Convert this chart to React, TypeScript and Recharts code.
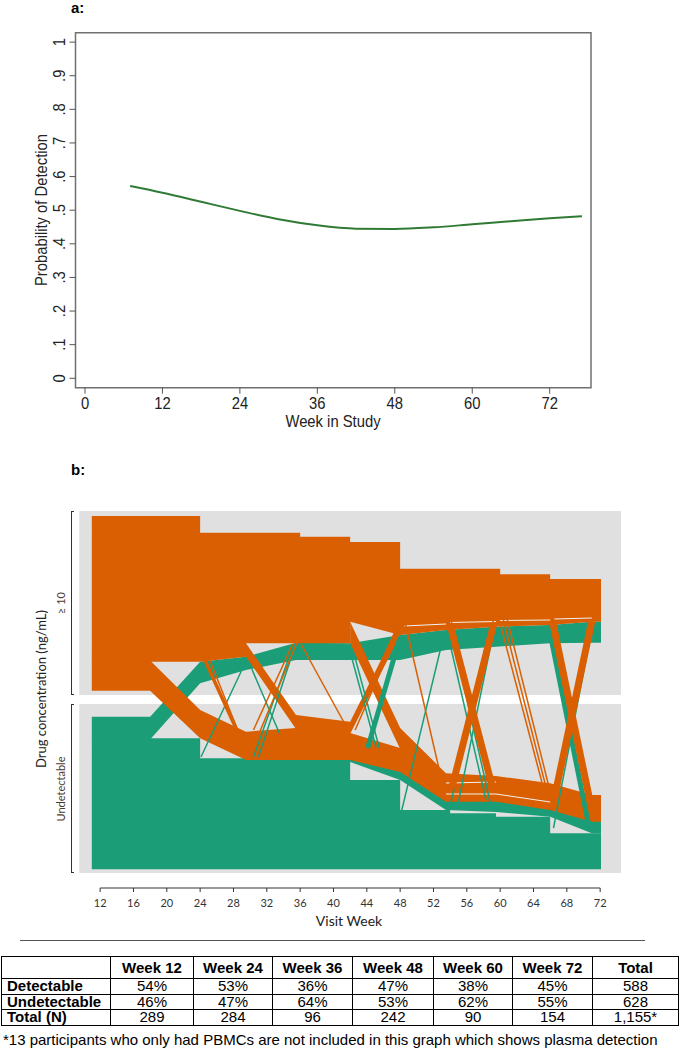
import React from 'react';
import {
  LineChart,
  Line,
  ComposedChart,
  Area,
  XAxis,
  YAxis,
  ReferenceArea,
  ReferenceLine,
} from 'recharts';

// ---- panel a: fitted probability of detection ----
const fitWeeks = [7, 12, 18, 24, 30, 36, 42, 48, 54, 60, 66, 72, 77];
const fitProb = [0.572, 0.552, 0.525, 0.498, 0.473, 0.455, 0.445, 0.444, 0.449, 0.458, 0.467, 0.476, 0.482];
const probTicks = [0, 0.1, 0.2, 0.3, 0.4, 0.5, 0.6, 0.7, 0.8, 0.9, 1];
const probLabels = ['0', '.1', '.2', '.3', '.4', '.5', '.6', '.7', '.8', '.9', '1'];
const studyWeekTicks = [0, 12, 24, 36, 48, 60, 72];

// ---- panel b: alluvial of drug concentration by visit ----
const visitTicks = [12, 16, 20, 24, 28, 32, 36, 40, 44, 48, 52, 56, 60, 64, 68, 72];
type Band = [number, number, number][]; // [week, low, high] in stacked participant units
type Path = [number, number][]; // [week, level]

const greenBase: Band = [
  [11, 18.7, 149.7], [24, 18.7, 149.7], [24, 18.7, 129.7], [42, 18.7, 129.7], [42, 18.7, 108],
  [48, 18.7, 108], [48, 18.7, 78], [54, 18.7, 78], [54, 18.7, 74.7], [59.5, 18.7, 74.7],
  [59.5, 18.7, 71.3], [66, 18.7, 71.3], [66, 18.7, 54.7], [72.1, 18.7, 54.7],
];
const greenSub: Band = [
  [29.5, 122, 130], [35.5, 122, 130], [42, 126, 130], [48, 108, 118], [53.5, 78, 88],
  [59.5, 76, 88], [66, 71.3, 80], [71, 54.7, 68], [72.1, 54.7, 68],
];
const greenUp: Band = [
  [11, 148.5, 171.3], [18, 148.5, 171.3], [24, 204.7, 226.3], [29.5, 218, 231.3], [35.5, 228, 245.3],
  [42, 228, 244.7], [48, 228, 253], [53.5, 238, 258], [59.5, 241.3, 261.3], [66, 244.7, 263],
  [71, 245.3, 266.3], [72.1, 245.3, 266.3],
];

const orangeTop: Band = [
  [11, 226.3, 372], [24, 226.3, 372], [24, 226.3, 355.3], [29.5, 231.3, 355.3], [29.5, 244.7, 355.3],
  [36, 244.7, 355.3], [36, 244.7, 351.3], [42, 244.7, 351.3], [42, 266.3, 346], [48, 253, 346],
  [48, 253, 319.3], [53.5, 258, 319.3], [59.5, 261.3, 319.3], [60, 261.5, 319.3], [60, 261.5, 313.7],
  [66, 263, 313.7], [66, 263, 309], [71, 266.3, 309], [72.1, 266.3, 309],
];
const orangeLow: Band = [
  [11, 197.3, 227.5], [18, 197.3, 227.5], [24, 149.7, 178], [29.5, 128, 156.3], [35.5, 128, 160],
  [42, 128, 155], [48, 116, 140], [53.5, 86.3, 100], [59.5, 86.3, 100], [66, 78, 92],
  [71, 66.3, 82], [72.1, 66.3, 82],
];
const orangeDown2: Band = [[29.5, 231.3, 244.7], [35.5, 159, 173], [42, 154, 166.3], [48, 253, 266.3]];
const orangeDown3: Band = [
  [42, 244.7, 266.3], [48, 139, 160], [53.5, 99, 114.7], [59.5, 99, 112], [66, 91, 104.7],
  [71, 81, 93], [72.1, 81, 93],
];

// crossing flows between strata, drawn as strokes
const greenThin: Path[] = [
  [[24.1, 131], [29, 218]],
  [[30.2, 219], [33.5, 155]],
  [[30.4, 131], [35.1, 241]],
  [[31, 131], [35.3, 240]],
  [[42.2, 230], [45.1, 141]],
  [[42.6, 230], [45.5, 140]],
  [[48.2, 78], [52.9, 241]],
  [[54.1, 240], [58.3, 88]],
  [[54.6, 240], [58.8, 86]],
  [[54.1, 86], [58.6, 256]],
  [[55, 86], [59.2, 256]],
  [[66.4, 60], [70.8, 250]],
];
const greenThick: Path[] = [
  [[44.1, 140], [48, 251]],
  [[66.2, 246], [70.6, 64]],
];
const orangeThin: Path[] = [
  [[25, 231], [28.8, 152]],
  [[30.4, 158], [35.1, 244]],
  [[31.2, 157], [35.6, 245]],
  [[36.1, 244], [41.3, 165]],
  [[42.2, 161], [48, 268]],
  [[42.6, 158], [48.2, 265]],
  [[48.6, 265], [52.7, 118]],
  [[59.8, 271], [65, 106]],
  [[60.3, 271], [65.4, 104]],
  [[60.8, 270], [65.8, 103]],
  [[54.1, 268], [58.9, 105]],
  [[54.5, 106], [59.2, 268]],
  [[66.6, 268], [70.4, 90]],
  [[66.8, 92], [71, 266]],
];
const orangeMid: Path[] = [[[24.4, 231], [28.5, 156]]];
const orangeThick: Path[] = [
  [[54, 263], [59, 103]],
  [[54.2, 100], [59.2, 263]],
  [[66.3, 266], [70.8, 86]],
  [[66.5, 90], [71, 267]],
];
const whiteSeams: Path[] = [
  [[53.5, 94], [59.5, 94]],
  [[59.5, 94], [66, 86]],
  [[53.5, 105], [59.5, 106]],
  [[48.5, 262], [53.5, 264]],
  [[54, 265.5], [59.5, 266.5]],
  [[60, 267.5], [66, 268]],
  [[66.5, 269], [71, 270]],
];

// ---- table ----
const tableWeeks = ['Week 12', 'Week 24', 'Week 36', 'Week 48', 'Week 60', 'Week 72'];
const detectablePct = ['54%', '53%', '36%', '47%', '38%', '45%'];
const undetectablePct = ['46%', '47%', '64%', '53%', '62%', '55%'];
const totalN = ['289', '284', '96', '242', '90', '154'];
const rowTotals = ['588', '628', '1,155*'];

const ORANGE = '#D95F02';
const GREEN = '#1B9E77';
const ARIAL = "'Liberation Sans', Arial, sans-serif";
const CAL = "Lato, 'Open Sans', sans-serif";
const SQUEEZE = 0.87;

const rows = (b: Band) => b.map(([w, lo, hi]) => ({ w, r: [lo, hi] }));
const pts = (p: Path) => p.map(([w, v]) => ({ w, v }));

const StudyTick = (props: any) => {
  const { x, y, payload } = props;
  return (
    <g transform={`translate(${x} ${y + 13}) scale(${SQUEEZE} 1)`}>
      <text x={0} y={0} textAnchor='middle' fontSize={17} fontFamily={ARIAL} fill='#222'>
        {payload.value}
      </text>
    </g>
  );
};

const ProbTick = (props: any) => {
  const { x, y, index } = props;
  return (
    <g transform={`translate(${x - 3} ${y}) rotate(-90) scale(${SQUEEZE} 1)`}>
      <text x={0} y={0} textAnchor='middle' fontSize={17} fontFamily={ARIAL} fill='#222'>
        {probLabels[index]}
      </text>
    </g>
  );
};

const VisitTick = (props: any) => {
  const { x, y, payload } = props;
  return (
    <text x={x} y={y + 12.5} textAnchor='middle' fontSize={11} fontFamily={CAL} fill='#333'>
      {payload.value}
    </text>
  );
};

const Label = ({ x, y, rotate, size, font, children, weight, color, squeeze }: any) => (
  <div
    style={{
      position: 'absolute',
      left: x,
      top: y,
      transform: `translate(-50%, -50%)${rotate ? ' rotate(-90deg)' : ''}${squeeze ? ` scaleX(${squeeze})` : ''}`,
      whiteSpace: 'nowrap',
      fontSize: size,
      fontFamily: font,
      fontWeight: weight || 'normal',
      color: color || '#222',
      lineHeight: 1,
    }}
  >
    {children}
  </div>
);

const Bracket = ({ top, height }: { top: number; height: number }) => (
  <div
    style={{
      position: 'absolute',
      left: 71,
      top,
      width: 3,
      height,
      borderLeft: '1.5px solid #333',
      borderTop: '1.5px solid #333',
      borderBottom: '1.5px solid #333',
      boxSizing: 'border-box',
    }}
  />
);

const bandArea = (b: Band, color: string, key: string) => (
  <Area
    key={key}
    data={rows(b)}
    dataKey='r'
    type='linear'
    fill={color}
    fillOpacity={1}
    stroke='none'
    dot={false}
    activeDot={false}
    isAnimationActive={false}
  />
);

const pathLine = (p: Path, color: string, width: number, key: string) => (
  <Line
    key={key}
    data={pts(p)}
    dataKey='v'
    type='linear'
    stroke={color}
    strokeWidth={width}
    dot={false}
    activeDot={false}
    isAnimationActive={false}
  />
);

const cell: React.CSSProperties = {
  border: '1px solid #000',
  padding: 0,
  textAlign: 'center',
  fontSize: 15,
  lineHeight: '14px',
  height: 14.5,
};

export default function App() {
  const fitData = fitWeeks.map((w, i) => ({ w, p: fitProb[i] }));

  return (
    <div
      style={{
        position: 'absolute',
        left: 0,
        top: 0,
        width: 679,
        height: 1050,
        overflow: 'hidden',
        background: '#fff',
        fontFamily: ARIAL,
      }}
    >
      <div style={{ position: 'absolute', left: 71, top: 0, fontSize: 15, fontWeight: 'bold', lineHeight: '15px' }}>a:</div>

      <div style={{ position: 'absolute', left: 0, top: 0 }}>
        <LineChart width={679} height={440} data={fitData} margin={{ top: 32.7, right: 88, bottom: 0, left: 0 }}>
          <XAxis
            dataKey='w'
            type='number'
            domain={[-1.47, 78.4]}
            allowDataOverflow
            ticks={studyWeekTicks}
            interval={0}
            axisLine={false}
            tickLine={{ stroke: '#555' }}
            tickSize={6}
            height={52.3}
            tick={StudyTick}
          />
          <YAxis
            type='number'
            domain={[-0.028, 1.028]}
            allowDataOverflow
            ticks={probTicks}
            interval={0}
            width={75.5}
            axisLine={false}
            tickLine={{ stroke: '#555' }}
            tickSize={6}
            tick={ProbTick}
          />
          <ReferenceArea x1={-1.47} x2={78.4} y1={-0.028} y2={1.028} fill='none' stroke='#707070' strokeWidth={1.5} />
          <Line type='monotone' dataKey='p' stroke='#2f7a35' strokeWidth={2} dot={false} isAnimationActive={false} />
        </LineChart>
      </div>
      <Label x={333} y={420.7} size={17} font={ARIAL} squeeze={SQUEEZE}>Week in Study</Label>
      <Label x={41} y={210} size={17} font={ARIAL} squeeze={SQUEEZE} rotate>Probability of Detection</Label>

      <div style={{ position: 'absolute', left: 71, top: 462.4, fontSize: 15, fontWeight: 'bold', lineHeight: '15px' }}>b:</div>

      <div style={{ position: 'absolute', left: 0, top: 500 }}>
        <ComposedChart width={679} height={440} margin={{ top: 11, right: 58, bottom: 0, left: 79.3 }}>
          <XAxis
            dataKey='w'
            type='number'
            domain={[9.5, 74.5]}
            allowDataOverflow
            ticks={visitTicks}
            interval={0}
            axisLine={false}
            tickLine={{ stroke: '#333' }}
            tickSize={4}
            height={52}
            tick={VisitTick}
          />
          <YAxis type='number' domain={[0, 377]} allowDataOverflow hide />
          <ReferenceArea x1={9.5} x2={74.5} y1={193} y2={377} fill='#E0E0E0' fillOpacity={1} stroke='none' />
          <ReferenceArea x1={9.5} x2={74.5} y1={15} y2={184} fill='#E0E0E0' fillOpacity={1} stroke='none' />
          {bandArea(greenBase, GREEN, 'gb')}
          {bandArea(greenSub, GREEN, 'gs')}
          {bandArea(greenUp, GREEN, 'gu')}
          {bandArea(orangeTop, ORANGE, 'ot')}
          {bandArea(orangeLow, ORANGE, 'ol')}
          {bandArea(orangeDown2, ORANGE, 'od2')}
          {bandArea(orangeDown3, ORANGE, 'od3')}
          {whiteSeams.map((p, i) => pathLine(p, '#f2f2f2', 1, 'ws' + i))}
          {greenThin.map((p, i) => pathLine(p, GREEN, 1.5, 'gt' + i))}
          {greenThick.map((p, i) => pathLine(p, GREEN, 5, 'gk' + i))}
          {orangeThin.map((p, i) => pathLine(p, ORANGE, 1.5, 'ott' + i))}
          {orangeMid.map((p, i) => pathLine(p, ORANGE, 3.5, 'om' + i))}
          {orangeThick.map((p, i) => pathLine(p, ORANGE, 7, 'ok' + i))}
          <ReferenceLine
            segment={[{ x: 12, y: 0 }, { x: 72, y: 0 }]}
            stroke='#333'
            strokeWidth={1}
            ifOverflow='visible'
          />
        </ComposedChart>
      </div>
      <Bracket top={511} height={184} />
      <Bracket top={704} height={169} />
      <Label x={60} y={603} size={11} font={CAL} rotate color='#4a3b30'>≥ 10</Label>
      <Label x={60} y={789} size={11} font={CAL} rotate color='#4a3b30'>Undetectable</Label>
      <Label x={41} y={689} size={13} font={CAL} rotate color='#222'>Drug concentration (ng/mL)</Label>
      <Label x={349} y={921} size={14} font={CAL} color='#222'>Visit Week</Label>

      <div style={{ position: 'absolute', left: 20, top: 939.5, width: 625, borderTop: '1px solid #555' }} />

      <table
        style={{
          position: 'absolute',
          left: 1,
          top: 956,
          width: 677,
          borderCollapse: 'collapse',
          tableLayout: 'fixed',
          fontFamily: ARIAL,
          color: '#000',
        }}
      >
        <colgroup>
          {[109, 83, 79, 80, 81, 79, 80, 86].map((w, i) => (
            <col key={i} style={{ width: w }} />
          ))}
        </colgroup>
        <tbody>
          <tr>
            <td style={{ ...cell, height: 21 }} />
            {tableWeeks.map((w) => (
              <td key={w} style={{ ...cell, height: 21, fontWeight: 'bold' }}>{w}</td>
            ))}
            <td style={{ ...cell, height: 21, fontWeight: 'bold' }}>Total</td>
          </tr>
          <tr>
            <td style={{ ...cell, textAlign: 'left', paddingLeft: 5, fontWeight: 'bold' }}>Detectable</td>
            {detectablePct.map((v, i) => <td key={i} style={cell}>{v}</td>)}
            <td style={cell}>{rowTotals[0]}</td>
          </tr>
          <tr>
            <td style={{ ...cell, textAlign: 'left', paddingLeft: 5, fontWeight: 'bold' }}>Undetectable</td>
            {undetectablePct.map((v, i) => <td key={i} style={cell}>{v}</td>)}
            <td style={cell}>{rowTotals[1]}</td>
          </tr>
          <tr>
            <td style={{ ...cell, textAlign: 'left', paddingLeft: 5, fontWeight: 'bold' }}>Total (N)</td>
            {totalN.map((v, i) => <td key={i} style={cell}>{v}</td>)}
            <td style={cell}>{rowTotals[2]}</td>
          </tr>
        </tbody>
      </table>
      <div style={{ position: 'absolute', left: 3, top: 1032, fontSize: 15, fontFamily: ARIAL, whiteSpace: 'nowrap', lineHeight: '16px' }}>
        *13 participants who only had PBMCs are not included in this graph which shows plasma detection
      </div>
    </div>
  );
}
